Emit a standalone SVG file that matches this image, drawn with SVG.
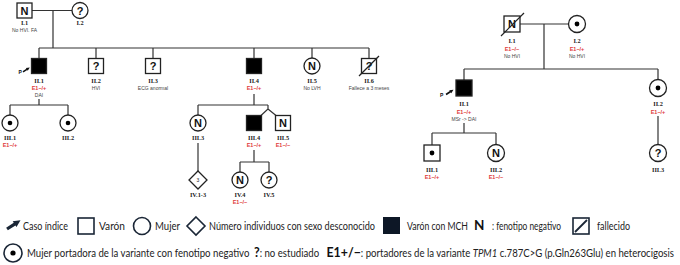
<svg xmlns="http://www.w3.org/2000/svg" width="680" height="265" viewBox="0 0 680 265">
<style>
.s{fill:#fff;stroke:#222;stroke-width:1.3}
.f{fill:#000;stroke:#222;stroke-width:1.3}
.ln{stroke:#333;stroke-width:1.2;fill:none}
.sym{font-family:"Liberation Sans",Arial,sans-serif;font-weight:bold;font-size:11px;fill:#111;text-anchor:middle}
.id{font-family:"Liberation Serif","Times New Roman",serif;font-weight:bold;font-size:6.3px;fill:#222;text-anchor:middle}
.nt{font-family:"Liberation Sans",Arial,sans-serif;font-size:5px;fill:#444;text-anchor:middle}
.rd{font-family:"Liberation Sans",Arial,sans-serif;font-size:5.5px;font-weight:bold;fill:#e03a3a;text-anchor:middle}
.lg{font-family:Lato,"Open Sans","Liberation Sans",Arial,sans-serif;font-size:10.5px;fill:#222}
.lgb{font-family:Lato,"Open Sans","Liberation Sans",Arial,sans-serif;font-size:13.5px;font-weight:bold;fill:#111}
.ls{fill:#fff;stroke:#1a2636;stroke-width:1.6}
.dot{fill:#000}
.pa{fill:#111}
</style>
<defs>
<path id="parrow" d="M7.87,230.35 L15.47,225.45 L16.5,227 L20.5,220.3 L12.7,221.2 L13.73,222.75 L6.13,227.65 Z"/>
</defs>

<g id="connectors">
<path class="ln" d="M32,10.5 H72 M53,10.5 V48 M39,48 H369 M39,48 V58.5 M96,48 V58.5 M153,48 V58.5 M254,48 V58.5 M312,48 V58 M369,48 V58.5"/>
<path class="ln" d="M39,99 V105 M10,105 H68 M10,105 V115 M68,105 V115"/>
<path class="ln" d="M254,94 V105 M198,105 H268 M198,105 V115 M268,105 V109 L261,115.5 M268,109 L276,115.5"/>
<path class="ln" d="M198,143 V171"/>
<path class="ln" d="M254,150 V162 M240,162 H269 M240,162 V172 M269,162 V172"/>
<path class="ln" d="M520,24 H569 M544,24 V69 M464,69 H658 M464,69 V80 M658,69 V80"/>
<path class="ln" d="M464,123 V133 M432,133 H496 M432,133 V145 M496,133 V145"/>
<path class="ln" d="M658,116 V145"/>
</g>

<g id="L-I1"><rect class="s" x="17" y="3" width="15" height="15"/><text class="sym" x="24.5" y="14.5">N</text><text class="id" x="24.5" y="25">I.1</text><text class="nt" x="24.5" y="32">No HVI. FA</text></g>
<g id="L-I2"><circle class="s" cx="80" cy="10.5" r="8"/><text class="sym" x="80" y="14.5">?</text><text class="id" x="80" y="25">I.2</text></g>

<g id="L-II1"><rect class="f" x="31.5" y="58.5" width="15" height="15"/><text class="id" x="39" y="83">II.1</text><text class="rd" x="39" y="90">E1−/+</text><text class="nt" x="39" y="97">DAI</text>
<text x="18.5" y="73.5" style="font-family:'Liberation Sans',Arial,sans-serif;font-weight:bold;font-size:5px;fill:#111">P</text>
<use href="#parrow" class="pa" transform="translate(22.5,67.3) scale(0.5) translate(-6,-220)"/></g>
<g id="L-II2"><rect class="s" x="88.5" y="58.5" width="15" height="15"/><text class="sym" x="96" y="70">?</text><text class="id" x="96" y="83">II.2</text><text class="nt" x="96" y="90">HVI</text></g>
<g id="L-II3"><rect class="s" x="145.5" y="58.5" width="15" height="15"/><text class="sym" x="153" y="70">?</text><text class="id" x="153" y="83">II.3</text><text class="nt" x="153" y="90">ECG anormal</text></g>
<g id="L-II4"><rect class="f" x="246.5" y="58.5" width="15" height="15"/><text class="id" x="254" y="83">II.4</text><text class="rd" x="254" y="90">E1−/+</text></g>
<g id="L-II5"><circle class="s" cx="312" cy="66" r="8"/><text class="sym" x="312" y="70">N</text><text class="id" x="312" y="83">II.5</text><text class="nt" x="312" y="90">No LVH</text></g>
<g id="L-II6"><rect class="s" x="361.5" y="58.5" width="15" height="15"/><text class="sym" x="369" y="70">?</text><line x1="359" y1="76" x2="379" y2="56" stroke="#222" stroke-width="1.2"/><text class="id" x="369" y="83">II.6</text><text class="nt" x="369" y="90">Fallece a 3 meses</text></g>

<g id="L-III1"><circle class="s" cx="10" cy="123" r="8"/><circle class="dot" cx="10" cy="123" r="2.3"/><text class="id" x="10" y="140">III.1</text><text class="rd" x="10" y="147">E1−/+</text></g>
<g id="L-III2"><circle class="s" cx="68" cy="123" r="8"/><circle class="dot" cx="68" cy="123" r="2.3"/><text class="id" x="68" y="140">III.2</text></g>
<g id="L-III3"><circle class="s" cx="198" cy="123" r="8"/><text class="sym" x="198" y="127">N</text><text class="id" x="198" y="140">III.3</text></g>
<g id="L-III4"><rect class="f" x="246.5" y="115.5" width="15" height="15"/><text class="id" x="254" y="140">III.4</text><text class="rd" x="254" y="147">E1−/+</text></g>
<g id="L-III5"><rect class="s" x="275.5" y="115.5" width="15" height="15"/><text class="sym" x="283" y="127">N</text><text class="id" x="283" y="140">III.5</text><text class="rd" x="283" y="147">E1−/−</text></g>

<g id="L-IV13"><path class="s" d="M198,171 L207,180 L198,189 L189,180 Z"/><text x="198" y="182" style="font-family:'Liberation Sans',Arial,sans-serif;font-size:5px;fill:#222;text-anchor:middle">3</text><text class="id" x="198" y="197">IV.1-3</text></g>
<g id="L-IV4"><circle class="s" cx="240" cy="180" r="8"/><text class="sym" x="240" y="184">N</text><text class="id" x="240" y="197">IV.4</text><text class="rd" x="240" y="204">E1−/−</text></g>
<g id="L-IV5"><circle class="s" cx="269" cy="180" r="8"/><text class="sym" x="269" y="184">?</text><text class="id" x="269" y="197">IV.5</text></g>

<g id="R-I1"><rect class="s" x="504" y="16" width="16" height="16"/><text class="sym" x="512" y="28">N</text><line x1="501" y1="36" x2="524" y2="13" stroke="#222" stroke-width="1.2"/><text class="id" x="512" y="43">I.1</text><text class="rd" x="512" y="50.5">E1−/−</text><text class="nt" x="512" y="57.5">No HVI</text></g>
<g id="R-I2"><circle class="s" cx="577" cy="24" r="8.5"/><circle class="dot" cx="577" cy="24" r="2.4"/><text class="id" x="577" y="43">I.2</text><text class="rd" x="577" y="50.5">E1−/+</text><text class="nt" x="577" y="57.5">No HVI</text></g>
<g id="R-II1"><rect class="f" x="456" y="80" width="16" height="16"/><text class="id" x="464" y="106">II.1</text><text class="rd" x="464" y="114">E1−/+</text><text class="nt" x="464" y="121">MSr -&gt; DAI</text>
<text x="440" y="97" style="font-family:'Liberation Sans',Arial,sans-serif;font-weight:bold;font-size:5px;fill:#111">P</text>
<use href="#parrow" class="pa" transform="translate(445.5,89.5) scale(0.55) translate(-6,-220)"/></g>
<g id="R-II2"><circle class="s" cx="658" cy="88" r="8.5"/><circle class="dot" cx="658" cy="88" r="2.4"/><text class="id" x="658" y="106">II.2</text><text class="rd" x="658" y="114">E1−/+</text></g>
<g id="R-III1"><rect class="s" x="424" y="145" width="16" height="16"/><circle class="dot" cx="432" cy="153" r="2.4"/><text class="id" x="432" y="172">III.1</text><text class="rd" x="432" y="179">E1−/+</text></g>
<g id="R-III2"><circle class="s" cx="496" cy="153" r="8.5"/><text class="sym" x="496" y="157">N</text><text class="id" x="496" y="172">III.2</text><text class="rd" x="496" y="179">E1−/−</text></g>
<g id="R-III3"><circle class="s" cx="658" cy="153" r="8.5"/><text class="sym" x="658" y="157">?</text><text class="id" x="658" y="172">III.3</text></g>

<g id="legend">
<use href="#parrow" fill="#1a2636"/>
<text class="lg" x="23" y="229.5" textLength="45" lengthAdjust="spacingAndGlyphs">Caso índice</text>
<rect class="ls" x="78" y="218" width="16" height="16"/>
<text class="lg" x="99" y="229.5" textLength="26" lengthAdjust="spacingAndGlyphs">Varón</text>
<circle class="ls" cx="142" cy="226" r="8.5"/>
<text class="lg" x="155" y="229.5" textLength="25" lengthAdjust="spacingAndGlyphs">Mujer</text>
<path class="ls" d="M196,217 L205,226 L196,235 L187,226 Z"/>
<text class="lg" x="209" y="229.5" textLength="166" lengthAdjust="spacingAndGlyphs">Número individuos con sexo desconocido</text>
<rect x="383" y="217" width="17" height="17" fill="#0d1726"/>
<text class="lg" x="407" y="229.5" textLength="61" lengthAdjust="spacingAndGlyphs">Varón con MCH</text>
<text class="lgb" x="474" y="230" font-size="13">N</text>
<text class="lg" x="492" y="229.5" textLength="69" lengthAdjust="spacingAndGlyphs">: fenotipo negativo</text>
<rect class="ls" x="573" y="218" width="16" height="16"/>
<line x1="575" y1="232" x2="587" y2="220" stroke="#1a2636" stroke-width="1.8"/>
<text class="lg" x="597" y="229.5" textLength="33" lengthAdjust="spacingAndGlyphs">fallecido</text>

<circle class="ls" cx="13" cy="253" r="9"/><circle class="dot" cx="13" cy="253" r="2.6"/>
<text class="lg" x="27" y="256.5" font-size="9.6" textLength="647" lengthAdjust="spacingAndGlyphs">Mujer portadora de la variante con fenotipo negativo<tspan class="lgb" dx="5" font-size="12.5">?</tspan>: no estudiado<tspan class="lgb" dx="8" font-size="12">E1+/−</tspan>: portadores de la variante <tspan font-style="italic">TPM1</tspan> c.787C&gt;G (p.Gln263Glu) en heterocigosis</text>
</g>
</svg>
